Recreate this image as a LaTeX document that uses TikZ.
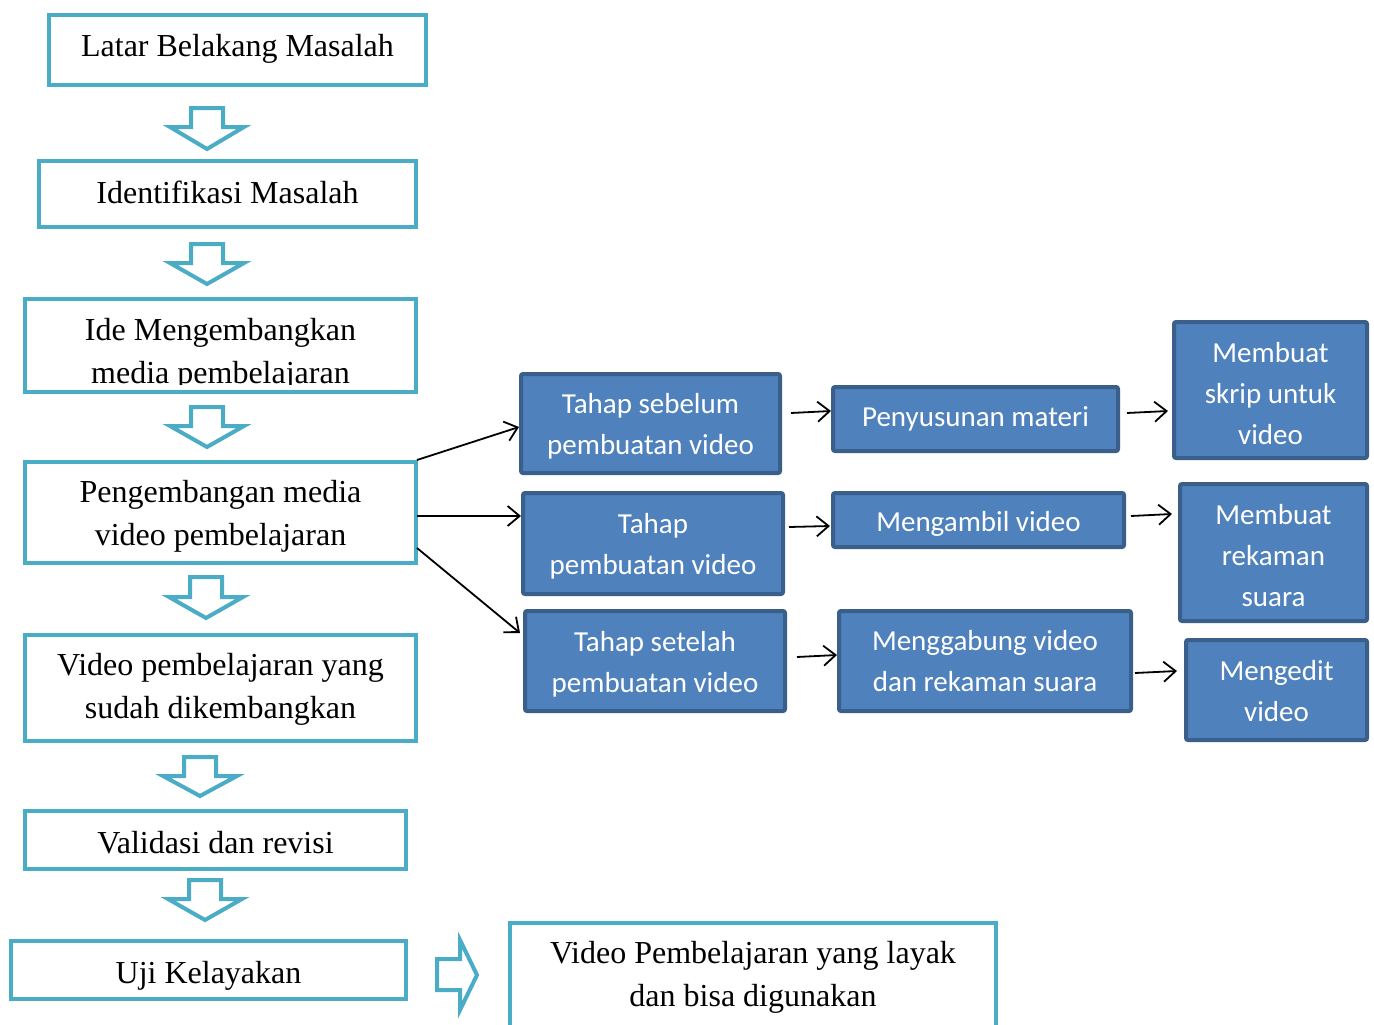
\documentclass[tikz,border=0pt]{standalone}
\usepackage{fontspec}
\setmainfont{Liberation Serif}
\newfontfamily\carl{Carlito}
\usetikzlibrary{arrows.meta}
\definecolor{teal1}{HTML}{4BACC6}
\definecolor{bfill}{HTML}{4F81BD}
\definecolor{bdraw}{HTML}{3A5F8B}
\tikzset{
 tbox/.style={draw=teal1, line width=4pt, fill=white, inner sep=0pt},
 ttext/.style={inner sep=0pt, align=center, font=\fontsize{32}{43}\selectfont},
 bbox/.style={draw=bdraw, line width=4pt, fill=bfill, rounded corners=2pt, inner sep=0pt},
 btext/.style={inner sep=0pt, align=center, text=white, font=\carl\fontsize{29}{41}\selectfont},
 hol/.style={draw=teal1, line width=4pt, fill=white, line join=miter},
 con/.style={draw=black, line width=1.8pt, -{Straight Barb[length=12pt,width=20pt]}},
}
\newcommand{\hdown}[4]{%
 \draw[hol] ({#1-16},{#2+2}) -- ({#1+16},{#2+2}) -- ({#1+16},{#3+2}) -- ({#1+37},{#3+2}) -- (#1,{#4-4}) -- ({#1-37},{#3+2}) -- ({#1-16},{#3+2}) -- cycle;}
\begin{document}
\begin{tikzpicture}[x=1pt,y=-1pt]
\useasboundingbox (0,0) rectangle (1374,1025);
\clip (0,0) rectangle (1374,1025);
% left column boxes
\node[tbox, minimum width=377pt, minimum height=70pt] (b1) at (237.5,50) {};
\node[ttext, anchor=base] (b1t) at (237.5,57) {Latar Belakang Masalah};
\node[tbox, minimum width=377pt, minimum height=66pt] (b2) at (227.5,194) {};
\node[ttext, anchor=base] (b2t) at (227.5,203) {Identifikasi Masalah};
\node[tbox, minimum width=391pt, minimum height=93pt] (b3) at (220.5,345.5) {};
\begin{scope}
\clip (30,300) rectangle (410,384);
\node[ttext] (b3t) at (220.5,354.5) {Ide Mengembangkan\\media pembelajaran};
\end{scope}
\node[tbox, minimum width=391pt, minimum height=101pt] (b4) at (220.5,512.5) {};
\node[ttext] (b4t) at (220.5,516) {Pengembangan media\\video pembelajaran};
\node[tbox, minimum width=391pt, minimum height=106pt] (b5) at (220.5,688) {};
\node[ttext] (b5t) at (220.5,689) {Video pembelajaran yang\\sudah dikembangkan};
\node[tbox, minimum width=381pt, minimum height=58pt] (b6) at (215.5,840) {};
\node[ttext, anchor=base] (b6t) at (215.5,853) {Validasi dan revisi};
\node[tbox, minimum width=395pt, minimum height=58pt] (b7) at (208.5,970) {};
\node[ttext, anchor=base] (b7t) at (208.5,983) {Uji Kelayakan};
\node[tbox, minimum width=486pt, minimum height=137pt] (b8) at (753,991.5) {};
\node[ttext] (b8t) at (753,977.5) {Video Pembelajaran yang layak\\dan bisa digunakan};
% hollow arrows
\hdown{207}{106}{125}{153}
\hdown{207}{242}{261}{288}
\hdown{207}{405}{424}{451}
\hdown{206}{575}{595}{622}
\hdown{200}{755}{774}{800}
\hdown{205}{878}{897}{924}
\draw[hol] (437,959) -- (460,959) -- (460,940) -- (477,975) -- (460,1010) -- (460,990) -- (437,990) -- cycle;
% blue boxes
\node[bbox, minimum width=259pt, minimum height=99pt] (t1) at (650.5,423.5) {};
\node[btext] (t1t) at (650.5,425.9) {Tahap sebelum\\pembuatan video};
\node[bbox, minimum width=260pt, minimum height=101pt] (t2) at (653,543.5) {};
\node[btext] (t2t) at (653,545.9) {Tahap\\pembuatan video};
\node[bbox, minimum width=260pt, minimum height=100pt] (t3) at (655,661) {};
\node[btext] (t3t) at (655,664.1) {Tahap setelah\\pembuatan video};
\node[bbox, minimum width=285pt, minimum height=64pt] (p1) at (975.5,419) {};
\node[btext, anchor=base] (p1t) at (975.5,426.7) {Penyusunan materi};
\node[bbox, minimum width=291pt, minimum height=54pt] (p2) at (978.5,520) {};
\node[btext, anchor=base] (p2t) at (978.5,531.7) {Mengambil video};
\node[bbox, minimum width=292pt, minimum height=100pt] (p3) at (985,661) {};
\node[btext] (p3t) at (985,661.5) {Menggabung video\\dan rekaman suara};
\node[bbox, minimum width=193pt, minimum height=136pt] (m1) at (1270.5,390) {};
\node[btext] (m1t) at (1270.5,393.5) {Membuat\\skrip untuk\\video};
\node[bbox, minimum width=187pt, minimum height=137pt] (m2) at (1273.5,552.5) {};
\node[btext] (m2t) at (1273.5,555.5) {Membuat\\rekaman\\suara};
\node[bbox, minimum width=181pt, minimum height=100pt] (m3) at (1276.5,690) {};
\node[btext] (m3t) at (1276.5,691.5) {Mengedit\\video};
% connectors
\draw[con] ([xshift=-1pt]b4.north east) -- ([yshift=-3.5pt]t1.west);
\draw[con] ([xshift=-1pt,yshift=-3.5pt]b4.east) -- ([yshift=27.5pt]t2.west);
\draw[con] ([xshift=-1pt,yshift=-35.5pt]b4.east) -- ([xshift=-3pt,yshift=28pt]t3.west);
\draw[con] ([xshift=9pt,yshift=10.5pt]t1.east) -- ([yshift=8pt]p1.west);
\draw[con] ([xshift=7pt,yshift=6pt]p1.east) -- ([xshift=-4pt,yshift=-21pt]m1.west);
\draw[con] ([xshift=4pt,yshift=16.5pt]t2.east) -- ([xshift=-1pt,yshift=-6pt]p2.west);
\draw[con] ([xshift=5pt,yshift=4pt]p2.east) -- ([xshift=-6pt,yshift=38.5pt]m2.west);
\draw[con] ([xshift=10pt,yshift=4pt]t3.east) -- ([yshift=6pt]p3.west);
\draw[con] ([xshift=2pt,yshift=-12pt]p3.east) -- ([xshift=-7pt,yshift=19pt]m3.west);
\end{tikzpicture}
\end{document}
